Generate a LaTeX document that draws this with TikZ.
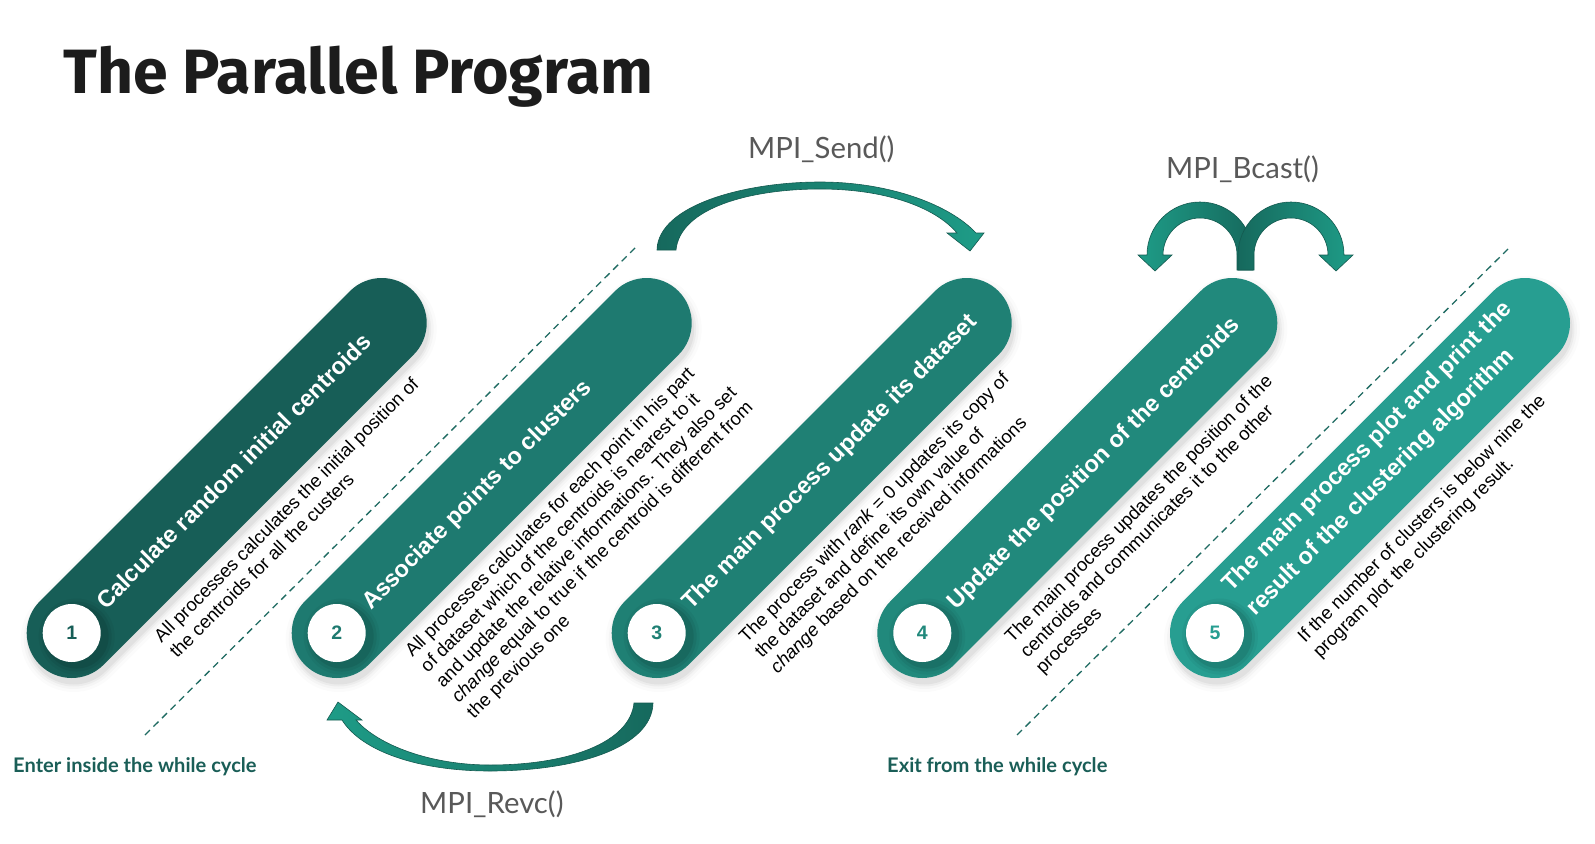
\documentclass[tikz,border=0pt]{standalone}
\usepackage{fontspec}
\setmainfont{Liberation Sans}
\newfontfamily\headfont{Fira Sans}
\newfontfamily\latofont{Lato}
\usetikzlibrary{calc}

\definecolor{pillA}{HTML}{175E57}
\definecolor{pillB}{HTML}{1E7A70}
\definecolor{pillC}{HTML}{1F8074}
\definecolor{pillD}{HTML}{21897C}
\definecolor{pillE}{HTML}{279E91}
\definecolor{arrdark}{HTML}{16695D}
\definecolor{arrlight}{HTML}{1E9C87}
\definecolor{arrline}{HTML}{145A50}
\definecolor{dashcol}{HTML}{1F6B62}
\definecolor{titlegray}{HTML}{1C1C1C}
\definecolor{mpigray}{HTML}{595959}
\definecolor{loopcol}{HTML}{1A5E57}

% one numbered step: index, x of the lower cap, colour, title y, title, description offset, description
\newcommand{\pillstep}[7]{%
  \coordinate (b#1) at (#2,-633);
  \coordinate (e#1) at ($(b#1)+(310,310)$);
  \foreach \w/\o in {106/0.015,100/0.025,95/0.035,91/0.045}
    \draw[line width=\w pt, line cap=round, black, opacity=\o]
      ($(b#1)+(2,-6)$) -- ($(e#1)+(2,-6)$);
  \draw[line width=90pt, line cap=round, draw=#3] (b#1) -- (e#1);
  \begin{scope}[shift={(b#1)}, rotate=45]
    \foreach \r/\o in {38/0.04,35/0.06,32/0.08}
      \fill[black, opacity=\o] (1,-6) circle (\r);
    \node[digit, text=#3] (n#1) at (0,0) {#1};
    \node[pilltitle] (t#1) at (40,#4) {#5};
    \node[pilldesc] (d#1) at (#6,-57.5) {#7};
  \end{scope}
}

\begin{document}
\begin{tikzpicture}[x=1pt, y=1pt,
  digit/.style={circle, fill=white, minimum size=58, inner sep=0,
    font=\bfseries\fontsize{19.5}{19.5}\selectfont},
  pilltitle/.style={anchor=north west, inner sep=0, rotate=45, align=left,
    text=white, font=\bfseries\fontsize{23.5}{35}\selectfont},
  pilldesc/.style={anchor=north west, inner sep=0, rotate=45, align=left,
    text=black, font=\fontsize{18.5}{21.8}\selectfont},
  mpilabel/.style={anchor=base west, inner sep=0, text=mpigray,
    font=\latofont\fontsize{29.3}{31}\selectfont},
  looplabel/.style={anchor=base west, inner sep=0, text=loopcol,
    font=\latofont\bfseries\fontsize{20.1}{22}\selectfont},
  loopline/.style={draw=dashcol, line width=1.3, dash pattern=on 7 off 5},
  blockarrow/.style={draw=arrline, line width=0.6}]

\useasboundingbox (0,0) rectangle (1595,-843);
\fill[white] (0,0) rectangle (1595,-843);

% heading
\node[anchor=base west, inner sep=0, text=titlegray,
  font=\headfont\bfseries\fontsize{62.6}{70}\selectfont] (title) at (63,-93.5) {The Parallel Program};

% borders of the while cycle
\coordinate (enterlo) at (145,-735);
\coordinate (enterhi) at (636,-247);
\coordinate (exitlo) at (1017,-735);
\coordinate (exithi) at (1508,-249);
\draw[loopline] (enterlo) -- (enterhi);
\draw[loopline] (exitlo) -- (exithi);

% the five steps
\pillstep{1}{71.7}{pillA}{8.8}{Calculate random initial centroids}{56}
  {All processes calculates the initial position of\\the centroids for all the custers}
\pillstep{2}{336.7}{pillB}{8.8}{Associate points to clusters}{36}
  {All processes calculates for each point in his part\\of dataset which of the centroids is nearest to it\\and update the relative informations. They also set\\\textit{change} equal to true if the centroid is different from\\the previous one}
\pillstep{3}{656.7}{pillC}{8.8}{The main process update its dataset}{56}
  {The process with \textit{rank} = 0 updates its copy of\\the dataset and define its own value of\\\textit{change} based on the received informations}
\pillstep{4}{922.3}{pillD}{8.8}{Update the position of the centroids}{56}
  {The main process updates the position of the\\centroids and communicates it to the other\\processes}
\pillstep{5}{1215}{pillE}{34.8}{The main process plot and print the\\result of the clustering algorithm}{56}
  {If the number of clusters is below nine the\\program plot the clustering result.}

% MPI_Send: curved arrow over steps 2 and 3
\shadedraw[blockarrow, left color=arrdark, right color=arrlight]
  (657,-250) .. controls (658,-205) and (745,-182) .. (820,-182)
  .. controls (890,-182) and (950,-205) .. (976,-233)
  -- (984,-233) -- (970,-251) -- (947,-233) -- (957,-233)
  .. controls (935,-207) and (885,-189) .. (820,-189)
  .. controls (750,-189) and (680,-208) .. (676,-250) -- cycle;

% MPI_Revc: curved arrow back under step 2
\shadedraw[blockarrow, left color=arrlight, right color=arrdark]
  (653,-703) .. controls (652,-748) and (575,-771) .. (490,-771)
  .. controls (420,-771) and (362,-752) .. (342,-720)
  -- (327,-720) -- (338,-702) -- (362,-720) -- (356,-720)
  .. controls (378,-745) and (430,-765) .. (490,-765)
  .. controls (570,-765) and (630,-742) .. (634,-703) -- cycle;

% MPI_Bcast: two arches spreading from one stem
\shadedraw[blockarrow, left color=arrlight, right color=arrdark]
  (1253,-270) -- (1253,-255) arc[start angle=0, end angle=180, radius=53]
  -- (1138,-255) -- (1155,-271) -- (1172,-255) -- (1163,-255)
  arc[start angle=180, end angle=0, radius=37] -- (1237,-270) -- cycle;
\shadedraw[blockarrow, left color=arrdark, right color=arrlight]
  (1238,-270) -- (1238,-255) arc[start angle=180, end angle=0, radius=53]
  -- (1353,-255) -- (1336,-271) -- (1319,-255) -- (1328,-255)
  arc[start angle=0, end angle=180, radius=37] -- (1254,-270) -- cycle;

% labels
\node[mpilabel] (send) at (748,-158) {MPI\_Send()};
\node[mpilabel] (bcast) at (1166,-178) {MPI\_Bcast()};
\node[mpilabel] (recv) at (420,-813) {MPI\_Revc()};
\node[looplabel] (enter) at (13,-772.7) {Enter inside the while cycle};
\node[looplabel] (exit) at (887,-772.7) {Exit from the while cycle};

\end{tikzpicture}
\end{document}
